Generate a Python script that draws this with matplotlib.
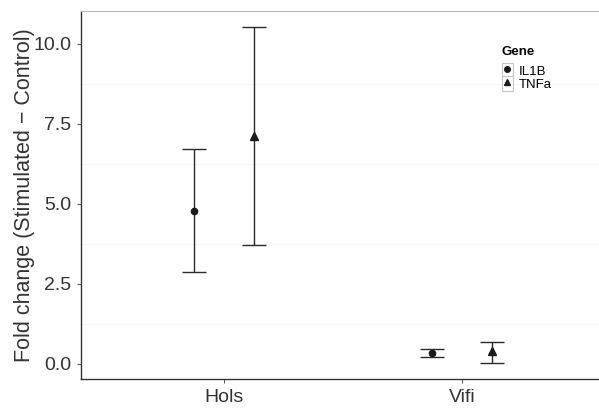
import matplotlib
matplotlib.use("Agg")
from matplotlib import pyplot as plt
from matplotlib.lines import Line2D
from matplotlib.patches import Patch
import numpy as np

# data
sites = ["Hols", "Vifi"]
genes = ["IL1B", "TNFa"]
markers = ["o", "^"]
mean_vals = {"IL1B": [4.79, 0.33], "TNFa": [7.13, 0.40]}
low_vals = {"IL1B": [2.86, 0.21], "TNFa": [3.72, 0.04]}
high_vals = {"IL1B": [6.72, 0.48], "TNFa": [10.52, 0.70]}
dodge = [-0.126, 0.126]

plt.rcParams['font.family'] = ['Liberation Sans', 'DejaVu Sans']

fig = plt.figure(figsize=(5.99, 4.08), dpi=100)
ax = fig.add_axes([81/599, 29/408, 518/599, 368/408])

x = np.arange(1, len(sites) + 1)
for g, m, d in zip(genes, markers, dodge):
    y = np.array(mean_vals[g])
    lo = y - np.array(low_vals[g])
    hi = np.array(high_vals[g]) - y
    ax.errorbar(x + d, y, yerr=[lo, hi], fmt=m, color='#1a1a1a',
                ecolor='#2a2a2a', elinewidth=1.0, capsize=8.6, capthick=1.0,
                markersize=4.5 if m == 'o' else 5.5)

ax.set_xlim(0.4, 2.576)
ax.set_ylim(-0.469, 11.03)
ax.set_xticks(x)
ax.set_xticklabels(sites)
ax.set_yticks([0, 2.5, 5, 7.5, 10])
ax.set_yticklabels(["0.0", "2.5", "5.0", "7.5", "10.0"])
ax.set_yticks([1.25, 3.75, 6.25, 8.75], minor=True)
ax.grid(which='minor', axis='y', color='#f7f7f7', linewidth=0.8)
ax.tick_params(which='minor', left=False)
ax.tick_params(axis='both', direction='out', length=3, width=0.6,
               colors='#333333', labelsize=14, labelcolor='#333333', pad=4)
ax.set_ylabel("Fold change (Stimulated \u2212 Control)", fontsize=15.5,
              color='#333333', labelpad=-1)

for s in ['left', 'bottom']:
    ax.spines[s].set_color('#333333')
    ax.spines[s].set_linewidth(1.0)
ax.spines['top'].set_color('#bbbbbb')
ax.spines['top'].set_linewidth(0.8)
ax.spines['right'].set_visible(False)

handles = []
for m in markers:
    box = Patch(facecolor='white', edgecolor='#c4c4c4', linewidth=0.8)
    mk = Line2D([], [], marker=m, linestyle='none', color='#1a1a1a',
                markersize=4)
    handles.append((box, mk))
leg = ax.legend(handles, genes, title="Gene", loc='upper left',
                bbox_to_anchor=(0.812, 0.906), frameon=False, fontsize=9.5,
                title_fontsize=9.5, handlelength=0.83, handleheight=1.3,
                handletextpad=0.45, labelspacing=-0.1, borderpad=0.0,
                borderaxespad=0.0)
leg.get_title().set_fontweight('bold')
leg._legend_box.align = "left"
leg._legend_box.sep = 4

plt.savefig("out.png", dpi=100)
